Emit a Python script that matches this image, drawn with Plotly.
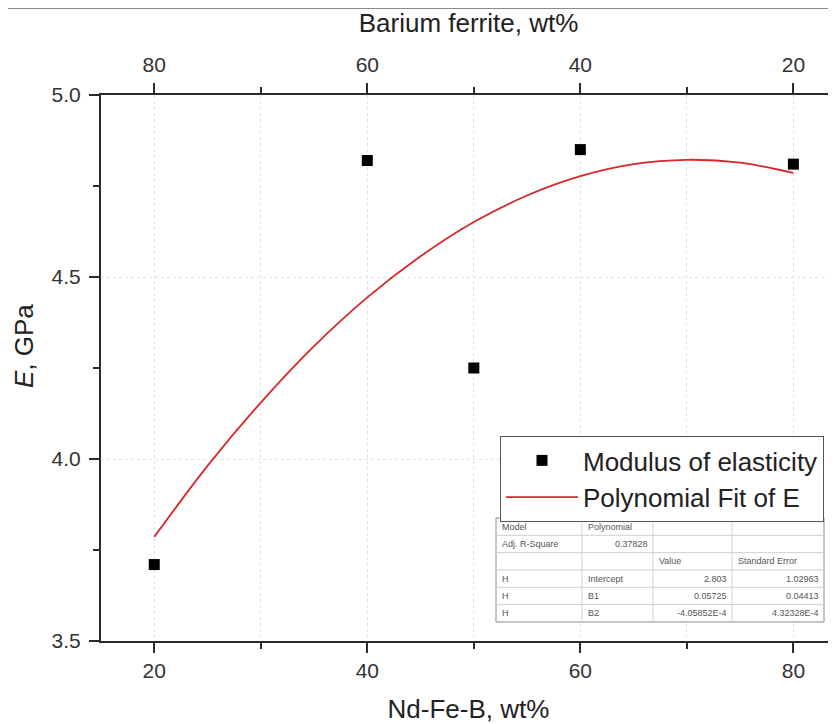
import plotly.graph_objects as go

# ---------------- data ----------------
nd_wt = [20, 40, 50, 60, 80]                 # Nd-Fe-B, wt%
barium_wt = [80, 60, 50, 40, 20]             # Barium ferrite, wt%
modulus = [3.71, 4.82, 4.25, 4.85, 4.81]     # E, GPa

fit_x = [20, 25, 30, 35, 40, 45, 50, 55, 60, 65, 70, 75, 80]
fit_y = [3.786, 3.981, 4.155, 4.310, 4.444, 4.557, 4.651,
         4.724, 4.777, 4.810, 4.822, 4.814, 4.786]

x_tick_vals = [20, 40, 60, 80]
top_tick_vals = [80, 60, 40, 20]
y_tick_vals = [3.5, 4.0, 4.5, 5.0]

table_col1 = ["Model", "Adj. R-Square", "", "H", "H", "H"]
table_col2 = ["Polynomial", "0.37828", "", "Intercept", "B1", "B2"]
table_col3 = ["", "", "Value", "2.803", "0.05725", "-4.05852E-4"]
table_col4 = ["", "", "Standard Error", "1.02963", "0.04413", "4.32328E-4"]

# ---------------- layout geometry ----------------
OFF = 8                      # page body margin
W, H = 836 - OFF, 724 - OFF
ML, MR, MT, MB = 101 - OFF, 0, 95 - OFF, 83
PW, PH = W - ML - MR, H - MT - MB
FONT = "Liberation Sans, Arial, sans-serif"


def px_x(p):
    """window pixel x -> paper coordinate"""
    return (p - OFF - ML) / PW


def px_y(p):
    """window pixel y -> paper coordinate"""
    return (H - MB - (p - OFF)) / PH


fig = go.Figure()

fig.add_trace(go.Scatter(
    x=nd_wt, y=modulus, mode="markers", name="Modulus of elasticity",
    marker=dict(symbol="square", size=11, color="black"),
))
fig.add_trace(go.Scatter(
    x=fit_x, y=fit_y, mode="lines", name="Polynomial Fit of E",
    line=dict(color="#d8262b", width=1.8, shape="spline"),
))
# invisible trace carrying the top (barium ferrite) axis
fig.add_trace(go.Scatter(
    x=barium_wt, y=modulus, xaxis="x2", mode="markers",
    marker=dict(opacity=0), showlegend=False, hoverinfo="skip",
))

axis_common = dict(
    showline=True, linecolor="#2b2b2b", linewidth=2,
    ticks="outside", ticklen=10, tickwidth=1.5, tickcolor="#2b2b2b",
    tickfont=dict(family=FONT, size=21, color="#333333"),
    zeroline=False,
)
GRID = "#e2e2e2"

fig.update_layout(
    width=W, height=H,
    margin=dict(l=ML, r=MR, t=MT, b=MB),
    paper_bgcolor="white", plot_bgcolor="white",
    font=dict(family=FONT, color="#222222"),
    showlegend=True,
    legend=dict(
        x=px_x(824), xanchor="right", y=px_y(436), yanchor="top",
        bgcolor="white", bordercolor="#555555", borderwidth=1,
        font=dict(family=FONT, size=26, color="#222222"),
        itemwidth=72, tracegroupgap=0,
    ),
    xaxis=dict(
        range=[15, 84.0], tickvals=x_tick_vals,
        showgrid=True, gridcolor=GRID, griddash="dot", gridwidth=1,
        minor=dict(dtick=10, tick0=0, ticklen=6, tickwidth=1.5, tickcolor="#2b2b2b",
                   ticks="outside", showgrid=True, gridcolor=GRID, griddash="dot"),
        title=dict(text="Nd-Fe-B, wt%", font=dict(family=FONT, size=26, color="#222222"),
                   standoff=19),
        ticklabelstandoff=0,
        **axis_common,
    ),
    xaxis2=dict(
        overlaying="x", side="top", anchor="y",
        range=[85, 16.0], tickvals=top_tick_vals, showgrid=False,
        minor=dict(dtick=10, tick0=0, ticklen=6, tickwidth=1.5, tickcolor="#2b2b2b",
                   ticks="outside"),
        title=dict(text="Barium ferrite, wt%", font=dict(family=FONT, size=26, color="#222222"),
                   standoff=15),
        ticklabelstandoff=3,
        **axis_common,
    ),
    yaxis=dict(
        range=[3.5, 5.0], tickvals=y_tick_vals, tickformat=".1f",
        showgrid=True, gridcolor=GRID, griddash="dot", gridwidth=1,
        minor=dict(dtick=0.25, tick0=3.5, ticklen=6, tickwidth=1.5, tickcolor="#2b2b2b",
                   ticks="outside"),
        ticklabelstandoff=4,
        **axis_common,
    ),
)

annotations = [dict(
    xref="paper", yref="paper", x=px_x(24), y=px_y(346),
    xanchor="center", yanchor="middle", textangle=-90, showarrow=False,
    text="<i>E</i>, GPa", font=dict(family=FONT, size=26, color="#222222"),
)]

# top border line of the original screenshot
shapes = [dict(type="line", xref="paper", yref="paper",
               x0=px_x(OFF), x1=px_x(836), y0=px_y(8), y1=px_y(8),
               line=dict(color="#8a8a8a", width=2))]

# ---------------- fit statistics table ----------------
col_edges = [496, 582, 653, 732, 824]
row_top, row_h = 518, 17.33
n_rows = len(table_col1)
row_edges = [row_top + i * row_h for i in range(n_rows + 1)]

shapes.append(dict(type="rect", xref="paper", yref="paper", layer="above",
                   x0=px_x(col_edges[0]), x1=px_x(col_edges[-1]),
                   y0=px_y(row_edges[-1]), y1=px_y(row_edges[0]),
                   fillcolor="white", line=dict(color="#8c8c8c", width=1)))
for ry in row_edges[1:-1]:
    shapes.append(dict(type="line", xref="paper", yref="paper", layer="above",
                       x0=px_x(col_edges[0]), x1=px_x(col_edges[-1]),
                       y0=px_y(ry), y1=px_y(ry),
                       line=dict(color="#d0d0d0", width=1)))
for cx in col_edges[1:-1]:
    shapes.append(dict(type="line", xref="paper", yref="paper", layer="above",
                       x0=px_x(cx), x1=px_x(cx),
                       y0=px_y(row_edges[-1]), y1=px_y(row_edges[0]),
                       line=dict(color="#d0d0d0", width=1)))

columns = [table_col1, table_col2, table_col3, table_col4]


def is_number(s):
    try:
        float(s)
        return True
    except ValueError:
        return False


for ci, col in enumerate(columns):
    for ri, txt in enumerate(col):
        if not txt:
            continue
        yc = row_edges[ri] + row_h / 2
        if is_number(txt):
            xx, anchor = col_edges[ci + 1] - 3, "right"
        else:
            xx, anchor = col_edges[ci] + 4, "left"
        annotations.append(dict(
            xref="paper", yref="paper", x=px_x(xx), y=px_y(yc),
            xanchor=anchor, yanchor="middle", showarrow=False, text=txt,
            font=dict(family=FONT, size=9, color="#555555"),
        ))

fig.update_layout(shapes=shapes, annotations=annotations)

fig.write_html("out.html")
